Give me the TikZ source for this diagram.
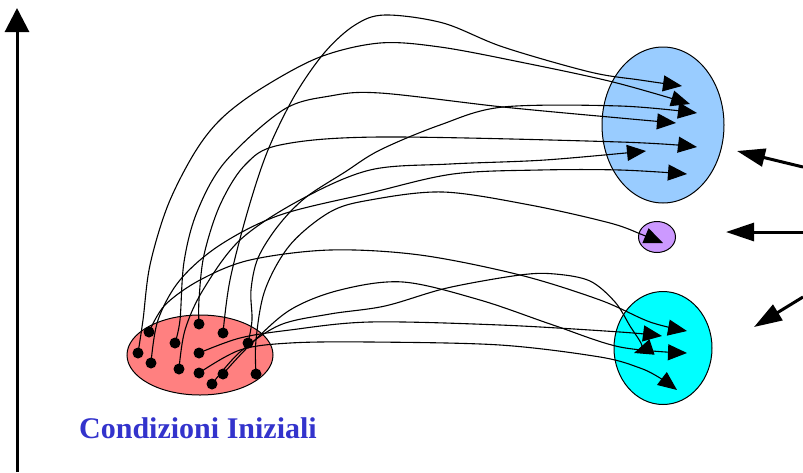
\documentclass[tikz,border=0pt]{standalone}
\usepackage{fontspec}
\setmainfont{Liberation Serif}
\usetikzlibrary{arrows.meta,shapes.geometric}
\definecolor{redset}{HTML}{FF8080}
\definecolor{blueset}{HTML}{99CCFF}
\definecolor{purpleset}{HTML}{CC99FF}
\definecolor{cyanset}{HTML}{00FFFF}
\definecolor{labelblue}{HTML}{3333CC}
\tikzset{
  region/.style={ellipse, draw=black, line width=1pt, inner sep=0pt},
  dot/.style={circle, fill=black, inner sep=0pt, minimum size=11pt},
  flow/.style={line width=1.1pt, -{Triangle[length=19pt,width=16pt]}},
  force/.style={line width=3pt, -{Triangle[length=28pt,width=18pt]}},
  axisline/.style={line width=3pt, -{Triangle[length=24pt,width=24pt]}},
}
\begin{document}
\begin{tikzpicture}[x=1pt,y=-1pt]
\useasboundingbox (0,0) rectangle (803,472);

% vertical axis
\coordinate (axb) at (17,472);
\coordinate (axt) at (17,8);
\draw[axisline] (axb) -- (axt);

% sets
\node[region, fill=redset, minimum width=146pt, minimum height=80pt] (init) at (200,355) {};
\node[region, fill=blueset, minimum width=122pt, minimum height=156pt] (attA) at (663,125) {};
\node[region, fill=purpleset, minimum width=37pt, minimum height=31pt] (attB) at (657,237) {};
\node[region, fill=cyanset, minimum width=98pt, minimum height=113pt] (attC) at (663,348) {};

% initial conditions
\node[dot] (d1) at (149,332) {};
\node[dot] (d2) at (138,353) {};
\node[dot] (d3) at (151,363) {};
\node[dot] (d4) at (175,343) {};
\node[dot] (d5) at (199,324) {};
\node[dot] (d6) at (223,333) {};
\node[dot] (d7) at (199,353) {};
\node[dot] (d8) at (179,369) {};
\node[dot] (d9) at (199,373) {};
\node[dot] (d10) at (212,384) {};
\node[dot] (d11) at (223,374) {};
\node[dot] (d12) at (248,343) {};
\node[dot] (d13) at (256,374) {};

% end points of the trajectories
\coordinate (t1) at (682,86);
\coordinate (t2) at (690,104);
\coordinate (t3) at (697,113);
\coordinate (t4) at (676,123);
\coordinate (t5) at (697,147);
\coordinate (t6) at (646,151);
\coordinate (t7) at (687,174);
\coordinate (t8) at (663,243);
\coordinate (t9) at (687,331);
\coordinate (t10) at (662,336);
\coordinate (t11) at (687,353);
\coordinate (t12) at (634,353);
\coordinate (t13) at (677,390);

% trajectories
\draw[flow] plot[smooth, tension=0.55] coordinates {(d6.center) (230,280) (248,210) (268,150) (295,95) (325,52) (355,25) (385,15) (443,23) (503,47) (590,72) (640,80) (t1)};
\draw[flow] plot[smooth, tension=0.55] coordinates {(d2.center) (143,320) (150,265) (168,205) (195,152) (222,118) (262,88) (320,57) (380,43) (440,47) (520,62) (613,82) (t2)};
\draw[flow] plot[smooth, tension=0.55] coordinates {(d12.center) (252,320) (251,290) (258,258) (278,226) (305,198) (345,172) (380,150) (440,125) (503,107) (620,106) (t3)};
\draw[flow] plot[smooth, tension=0.55] coordinates {(d4.center) (180,320) (184,262) (197,212) (225,162) (283,110) (330,96) (380,93) (503,107) (620,118) (t4)};
\draw[flow] plot[smooth, tension=0.55] coordinates {(d5.center) (199,300) (204,255) (220,205) (245,165) (280,145) (380,137) (620,142) (t5)};
\draw[flow] plot[smooth, tension=0.55] coordinates {(d8.center) (185,330) (203,290) (240,240) (300,200) (370,170) (450,164) (545,160) (t6)};
\draw[flow] plot[smooth, tension=0.55] coordinates {(d3.center) (158,320) (180,280) (220,245) (280,215) (370,193) (453,174) (540,170) (620,170) (t7)};
\draw[flow] plot[smooth, tension=0.55] coordinates {(d13.center) (256,340) (265,290) (290,245) (330,212) (370,200) (443,192) (530,205) (610,223) (643,235) (t8)};
\draw[flow] plot[smooth, tension=0.55] coordinates {(d1.center) (165,305) (200,280) (250,260) (330,250) (420,255) (520,275) (600,300) (650,322) (t9)};
\draw[flow] plot[smooth, tension=0.55] coordinates {(d7.center) (240,338) (290,330) (370,322) (500,325) (620,332) (t10)};
\draw[flow] plot[smooth, tension=0.55] coordinates {(d11.center) (250,345) (290,310) (340,290) (403,282) (480,300) (553,325) (620,347) (t11)};
\draw[flow] plot[smooth, tension=0.55] coordinates {(d10.center) (240,352) (280,325) (330,314) (385,306) (447,288) (520,275) (555,274) (590,281) (615,302) (630,326) (642,346) (t12)};
\draw[flow] plot[smooth, tension=0.55] coordinates {(d9.center) (240,350) (290,343) (370,342) (500,345) (600,357) (640,368) (660,378) (t13)};

% external arrows
\coordinate (f1) at (803,167);
\coordinate (g1) at (737,151);
\coordinate (f2) at (803,232);
\coordinate (g2) at (726,232);
\coordinate (f3) at (803,297);
\coordinate (g3) at (754,327);
\draw[force] (f1) -- (g1);
\draw[force] (f2) -- (g2);
\draw[force] (f3) -- (g3);

% label
\node[text=labelblue, font=\bfseries\fontsize{30}{36}\selectfont] (lbl) at (198,428) {Condizioni Iniziali};
\end{tikzpicture}
\end{document}
